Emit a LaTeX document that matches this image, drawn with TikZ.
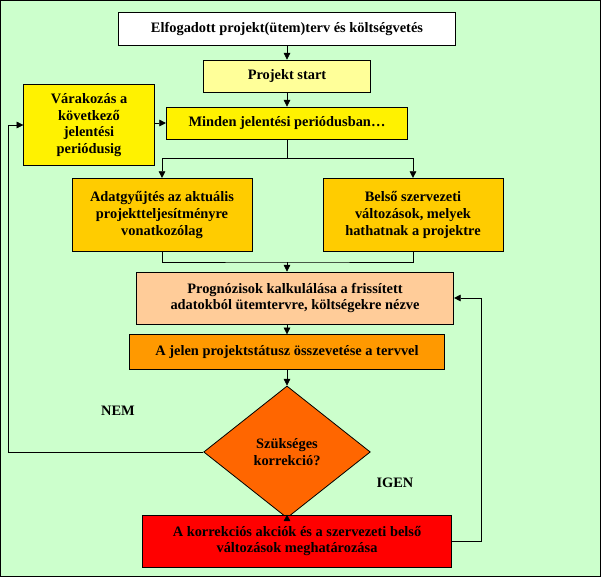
\documentclass[tikz,border=0pt]{standalone}
\usepackage{fontspec}
\setmainfont{Liberation Serif}
\usetikzlibrary{arrows.meta,shapes.geometric}
\begin{document}
\begin{tikzpicture}[x=0.75pt,y=-0.75pt,
  box/.style={draw,semithick,align=center,font=\bfseries\fontsize{10.8}{12.5}\selectfont,inner sep=1pt},
  arr/.style={-{Triangle[length=5pt,width=5pt]}}]
\fill[fill={rgb,255:red,204;green,255;blue,204}] (0,0) rectangle (601,577);
\draw[thick] (0.5,0.5) rectangle (600.5,576.5);
\useasboundingbox (0,0) rectangle (601,577);
\node[box,fill=white,minimum width=253pt,minimum height=25pt] (a) at (287,29) {Elfogadott projekt(ütem)terv és költségvetés};
\node[box,fill={rgb,255:red,255;green,255;blue,153},minimum width=125pt,minimum height=24pt] (b) at (287,76) {Projekt start};
\node[box,fill=yellow,minimum width=98pt,minimum height=61pt] (w) at (89,125) {Várakozás a\\következő\\jelentési\\periódusig};
\node[box,fill=yellow,minimum width=181pt,minimum height=24pt] (m) at (287,123) {Minden jelentési periódusban…};
\node[box,fill={rgb,255:red,255;green,204;blue,0},minimum width=135pt,minimum height=55pt] (d) at (162,215) {Adatgyűjtés az aktuális\\projektteljesítményre\\vonatkozólag};
\node[box,fill={rgb,255:red,255;green,204;blue,0},minimum width=135pt,minimum height=55pt] (s) at (413,215) {Belső szervezeti\\változások, melyek\\hathatnak a projektre};
\node[box,fill={rgb,255:red,255;green,204;blue,153},minimum width=238pt,minimum height=39pt] (p) at (295,298) {Prognózisok kalkulálása a frissített\\adatokból ütemtervre, költségekre nézve};
\node[box,fill={rgb,255:red,255;green,153;blue,0},minimum width=236pt,minimum height=26pt] (j) at (287,352) {A jelen projektstátusz összevetése a tervvel};
\node[box,diamond,fill={rgb,255:red,255;green,102;blue,0},minimum width=125pt,minimum height=99pt,inner sep=0pt] (k) at (287,452) {Szükséges\\korrekció?};
\node[box,fill=red,minimum width=232pt,minimum height=39pt] (r) at (297,541) {A korrekciós akciók és a szervezeti belső\\változások meghatározása};
\node[font=\bfseries\fontsize{10.8}{12.5}\selectfont] (nem) at (118,411) {NEM};
\node[font=\bfseries\fontsize{10.8}{12.5}\selectfont] (igen) at (395,483) {IGEN};
\draw[arr] (a) -- (b);
\draw[arr] (b) -- (m);
\draw (m.south) -- ++(0,19) coordinate (sp);
\draw[arr] (sp) -| (d.north);
\draw[arr] (sp) -| (s.north);
\coordinate (jn) at (287,262);
\draw (d.south) |- (jn) -| (s.south);
\draw[arr] (jn) -- (jn|-p.north);
\draw[arr] (jn|-p.south) -- (j);
\draw[arr] (j) -- (k);
\draw[arr] (k) -- (k|-r.north);
\coordinate (rr) at (481,541);
\draw[arr] (r.east) -- (rr) |- (p.east);
\coordinate (ll) at (8,452);
\draw[arr] (k.west) -- (ll) |- (w.west);
\draw[arr] (w.east|-m) -- (m.west);
\end{tikzpicture}
\end{document}
